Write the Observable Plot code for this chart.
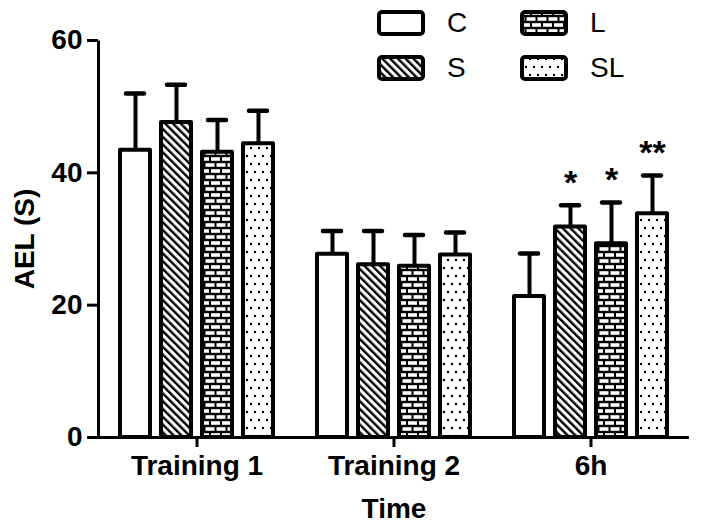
<!DOCTYPE html>
<html>
<head>
<meta charset="utf-8">
<script src="https://cdn.jsdelivr.net/npm/d3@7"></script>
<script src="https://cdn.jsdelivr.net/npm/@observablehq/plot@0.6"></script>
<style>
  body { margin: 0; background: #fff; }
  #wrap { position: relative; width: 702px; height: 531px; font-family: "Liberation Sans", Arial, sans-serif; }
  #legend { position: absolute; left: 0; top: 0; width: 702px; height: 100px; pointer-events: none; }
  .item { position: absolute; display: flex; align-items: center; height: 28px; }
  .item span { font-size: 28px; color: #000; margin-left: 22px; line-height: 28px; }
  g[aria-label^="y-axis"], g[aria-label="fx-axis tick"] { stroke-width: 3px; }
</style>
</head>
<body>
<div id="wrap">
  <div id="chart"></div>
  <div id="legend"></div>
</div>
<script>
// ---- data ----
const times = ["Training 1", "Training 2", "6h"];
const groups = ["C", "S", "L", "SL"];
const meanC  = [43.4, 27.7, 21.3];
const errC   = [8.6, 3.5, 6.5];
const meanS  = [47.6, 26.1, 31.8];
const errS   = [5.7, 5.1, 3.3];
const meanL  = [43.1, 25.9, 29.3];
const errL   = [4.9, 4.7, 6.2];
const meanSL = [44.4, 27.6, 33.8];
const errSL  = [5.0, 3.4, 5.8];
const yTicks = [0, 20, 40, 60];
const starTime  = ["6h", "6h", "6h"];
const starGroup = ["S", "L", "SL"];
const starLabel = ["*", "*", "**"];

const means = {C: meanC, S: meanS, L: meanL, SL: meanSL};
const errs = {C: errC, S: errS, L: errL, SL: errSL};
const rows = [];
times.forEach((t, i) => groups.forEach(g => rows.push({time: t, group: g, mean: means[g][i], top: means[g][i] + errs[g][i]})));
const stars = starTime.map((t, i) => {
  const r = rows.find(d => d.time === t && d.group === starGroup[i]);
  return {time: t, group: starGroup[i], label: starLabel[i], top: r.top};
});
const fills = ["white", "url(#pat-hatch)", "url(#pat-brick)", "url(#pat-dots)"];

const chart = Plot.plot({
  width: 702,
  height: 531,
  marginLeft: 97,
  marginRight: 13,
  marginTop: 40,
  marginBottom: 94,
  style: {fontFamily: "'Liberation Sans', Arial, sans-serif", fontSize: "28px", fontWeight: "bold", color: "black", background: "white"},
  fx: {domain: times, padding: 0, label: "Time", labelAnchor: "center", labelOffset: 80, tickSize: 10, tickPadding: 8},
  x: {domain: groups, paddingInner: 0.28, paddingOuter: 0.5, axis: null},
  y: {domain: [0, 60], ticks: yTicks, tickSize: 11, tickPadding: 5, label: "AEL (S)", labelAnchor: "center", labelArrow: "none", labelOffset: 84, line: true},
  color: {domain: groups, range: fills, type: "ordinal"},
  marks: [
    Plot.ruleX(rows, {fx: "time", x: "group", y1: "mean", y2: "top", stroke: "black", strokeWidth: 4}),
    Plot.tickY(rows, {fx: "time", x: "group", y: "top", stroke: "black", strokeWidth: 4.5, insetLeft: 6, insetRight: 6, strokeLinecap: "round"}),
    Plot.barY(rows, {fx: "time", x: "group", y: "mean", fill: "group", stroke: "black", strokeWidth: 4, strokeLinejoin: "round"}),
    Plot.ruleY([0], {stroke: "black", strokeWidth: 3}),
    Plot.text(stars, {fx: "time", x: "group", y: "top", text: "label", dy: -22, fontSize: 34, fontWeight: "bold", lineAnchor: "middle"})
  ]
});
document.getElementById("chart").appendChild(chart);

const svg = d3.select(chart.tagName.toLowerCase() === "svg" ? chart : chart.querySelector("svg"));
// thicker y-axis line (drawn by Plot's axis line frame)
svg.selectAll('[aria-label="frame"] line, [aria-label="frame"] rect, line[aria-label="frame"]')
  .attr("stroke-width", 3).style("stroke-width", "3px").attr("stroke-linecap", "butt");

// pattern definitions for bar fills
const defs = svg.insert("defs", ":first-child");
const hatch = defs.append("pattern").attr("id", "pat-hatch").attr("patternUnits", "userSpaceOnUse")
  .attr("width", 5.5).attr("height", 5.5).attr("patternTransform", "rotate(-45)");
hatch.append("rect").attr("width", 5.5).attr("height", 5.5).attr("fill", "white");
hatch.append("rect").attr("x", 0).attr("width", 2.4).attr("height", 5.5).attr("fill", "black");
const brick = defs.append("pattern").attr("id", "pat-brick").attr("patternUnits", "userSpaceOnUse")
  .attr("width", 22).attr("height", 12);
brick.append("rect").attr("width", 22).attr("height", 12).attr("fill", "black");
[[1, 1.2, 9], [12, 1.2, 9], [0, 7.2, 4.5], [6.5, 7.2, 9], [17.5, 7.2, 4.5]].forEach(([x, y, w]) =>
  brick.append("rect").attr("x", x).attr("y", y).attr("width", w).attr("height", 3.6).attr("fill", "white"));
const dots = defs.append("pattern").attr("id", "pat-dots").attr("patternUnits", "userSpaceOnUse")
  .attr("width", 8).attr("height", 16);
dots.append("rect").attr("width", 8).attr("height", 16).attr("fill", "white");
dots.append("circle").attr("cx", 2).attr("cy", 4).attr("r", 1.2).attr("fill", "black");
dots.append("circle").attr("cx", 6).attr("cy", 12).attr("r", 1.2).attr("fill", "black");

// legend
const legendPos = [[377, 9], [377, 54], [520, 9], [520, 54]];
const legend = document.getElementById("legend");
groups.forEach((g, i) => {
  const div = document.createElement("div");
  div.className = "item";
  div.style.left = legendPos[i][0] + "px";
  div.style.top = legendPos[i][1] + "px";
  div.innerHTML = `<svg width="48" height="26"><rect x="2" y="2" width="44" height="22" rx="3" fill="${fills[i]}" stroke="black" stroke-width="4"/></svg><span>${g}</span>`;
  legend.appendChild(div);
});
</script>
</body>
</html>
